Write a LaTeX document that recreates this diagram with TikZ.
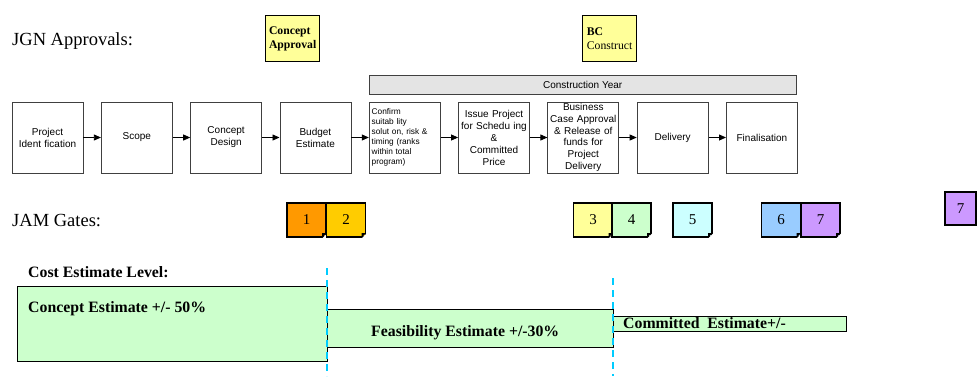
\documentclass[tikz,border=0pt]{standalone}
\usepackage{fontspec}
\setmainfont{Liberation Serif}
\setsansfont{Liberation Sans}
\usetikzlibrary{arrows.meta, positioning, calc}
\definecolor{gate1}{HTML}{FF9900}
\definecolor{gate2}{HTML}{FFCC00}
\definecolor{gate3}{HTML}{FFFF99}
\definecolor{gate4}{HTML}{CCFFCC}
\definecolor{gate5}{HTML}{CCFFFF}
\definecolor{gate6}{HTML}{99CCFF}
\definecolor{gate7}{HTML}{CC99FF}
\definecolor{approvalyellow}{HTML}{FFFF99}
\definecolor{costgreen}{HTML}{CCFFCC}
\definecolor{yeargray}{HTML}{E4E4E4}
\definecolor{divcyan}{HTML}{00CCFF}
\hyphenpenalty=10000

\tikzset{
  stage/.style={draw=black!75, line width=0.8pt, minimum width=71pt, minimum height=71pt,
    text width=69pt, align=center, inner xsep=1pt, inner ysep=2pt,
    font=\sffamily\fontsize{10}{12}\selectfont},
  flow/.style={-{Triangle[length=7pt,width=6pt]}, line width=0.8pt},
  approval/.style={draw, line width=1.3pt, fill=approvalyellow, minimum width=54pt,
    minimum height=46pt, anchor=north west, align=left, inner sep=1pt,
    font=\fontsize{11.7}{14}\selectfont},
  gate/.style={draw, line width=1.1pt, minimum width=39pt, minimum height=34pt,
    inner sep=0pt, font=\fontsize{15}{18}\selectfont},
  costbar/.style={draw, line width=1.3pt, fill=costgreen, anchor=north west, inner sep=0pt},
  heading/.style={anchor=base west, inner sep=0pt, font=\fontsize{18.5}{22}\selectfont},
  costlabel/.style={anchor=base west, inner sep=0pt, font=\bfseries\fontsize{15.8}{19}\selectfont},
  divider/.style={divcyan, line width=1.5pt, dash pattern=on 7pt off 5pt}
}

\begin{document}
\begin{tikzpicture}[x=1pt, y=-1pt]
  \useasboundingbox (0,0) rectangle (978,376);

  % approvals
  \node[heading] (jgn) at (12,45) {JGN Approvals:};
  \node[approval] (conceptok) at (265,15) {\textbf{Concept}\\\textbf{Approval}};
  \node[approval] (bcok) at (582,15) {\textbf{BC}\\Construct};

  % process
  \node[stage] (ident) at (47.5,137.5) {Project\\Ident fication};
  \node[stage, right=17.5pt of ident] (scope) {Scope};
  \node[stage, right=17.5pt of scope] (design) {Concept\\Design};
  \node[stage, right=17.5pt of design] (budget) {Budget\\Estimate};
  \node[stage, right=17.5pt of budget, align=left, text width=66pt, inner xsep=2.5pt,
    font=\sffamily\fontsize{8.3}{10}\selectfont] (confirm)
    {Confirm\\suitab lity\\solut on, risk \&\\timing (ranks\\within total\\program)};
  \node[stage, right=17.5pt of confirm] (issue) {Issue Project\\for Schedu ing\\\&\\Committed\\Price};
  \node[stage, right=17.5pt of issue, inner ysep=0pt, font=\sffamily\fontsize{10}{11.7}\selectfont] (business)
    {Business\\Case Approval\\\& Release of\\funds for\\Project\\Delivery};
  \node[stage, right=17.5pt of business] (delivery) {Delivery};
  \node[stage, right=17.5pt of delivery] (final) {Finalisation};
  \foreach \a/\b in {ident/scope, scope/design, design/budget, budget/confirm,
                     confirm/issue, issue/business, business/delivery, delivery/final}
    \draw[flow] (\a) -- (\b);

  \node[draw=black!75, line width=0.8pt, fill=yeargray, minimum width=427pt, minimum height=19pt,
    inner sep=0pt, font=\sffamily\fontsize{10}{12}\selectfont,
    above=7pt of confirm.north west, anchor=south west] (year) {Construction Year};

  % gates
  \node[heading] (jam) at (12,226) {JAM Gates:};
  \foreach \cx/\col/\num [count=\i] in {306.5/gate1/1, 346/gate2/2, 593/gate3/3, 631.5/gate4/4,
                                       692.5/gate5/5, 781/gate6/6, 820.5/gate7/7} {
    \node[gate, fill=\col] (gate\i) at (\cx,220) {\num};
    \fill[white] ($(gate\i.south east)+(-4.5,0.9)$) -- ++(5.4,0) -- ++(0,-5.4) -- cycle;
    \fill ($(gate\i.south east)+(-4.5,0)$) -- ++(4.5,-4.5) -- ++(-4.5,0) -- cycle;
  }
  \node[gate, fill=gate7, minimum width=31pt, minimum height=33pt] (spare) at (960.5,208.5) {7};

  % cost estimates
  \node[costlabel] (costlevel) at (28,277) {Cost Estimate Level:};
  \node[costbar, minimum width=310pt, minimum height=75pt] (conceptbar) at (17,286) {};
  \node[costbar, minimum width=286pt, minimum height=38pt] (feasbar) at (327,309) {};
  \node[costbar, minimum width=233pt, minimum height=15pt] (commitbar) at (613,316) {};
  \node[costlabel] (conceptest) at (28,312) {Concept Estimate +/- 50\%};
  \node[costlabel] (feasest) at (371,336) {Feasibility Estimate +/-30\%};
  \node[costlabel] (commitest) at (623,328) {Committed\ \ Estimate+/-};

  \draw[divider] (327,268) -- (327,376);
  \draw[divider] (613,278) -- (613,376);
\end{tikzpicture}
\end{document}
